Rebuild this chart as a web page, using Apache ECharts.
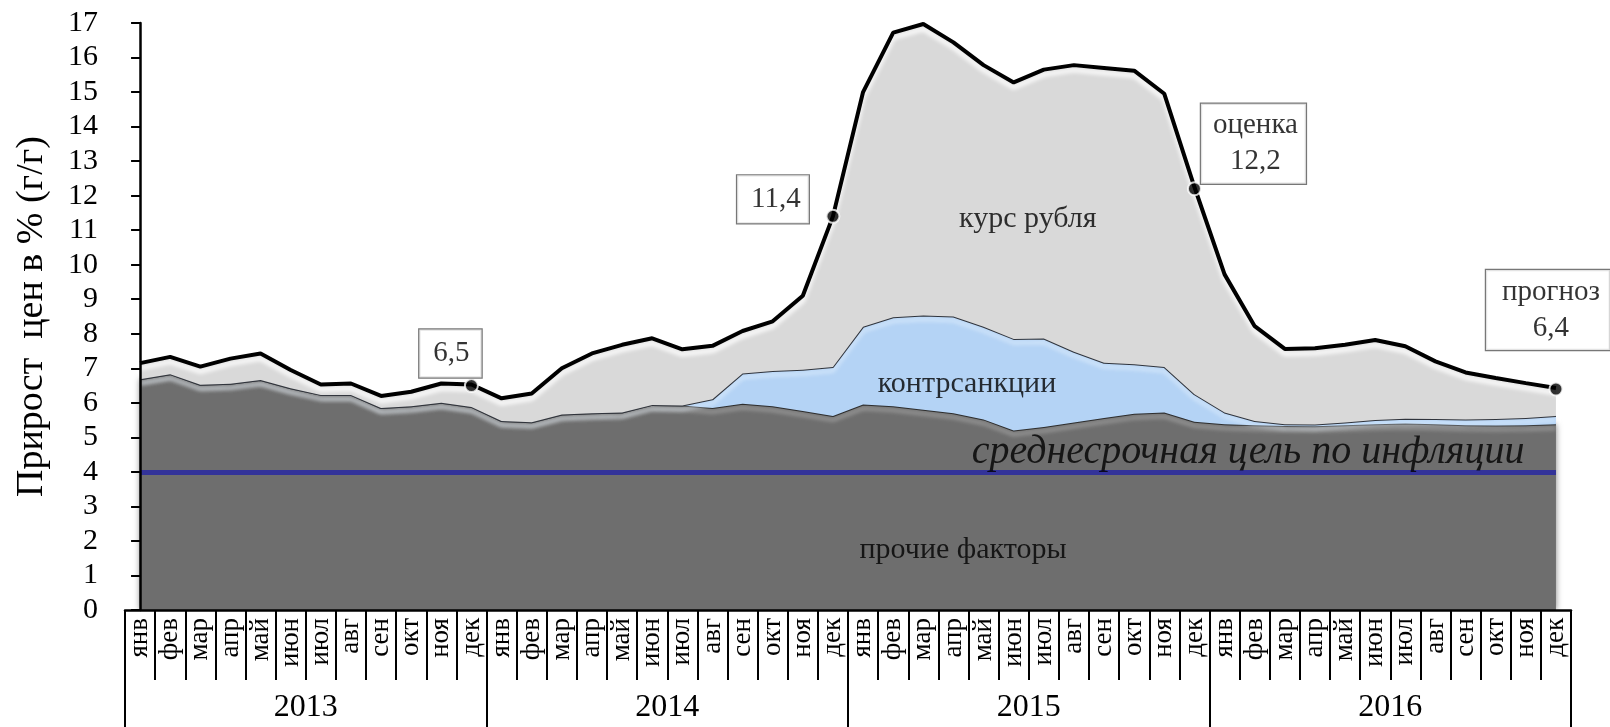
<!DOCTYPE html>
<html><head><meta charset="utf-8">
<script src="https://cdn.jsdelivr.net/npm/echarts@6/dist/echarts.min.js"></script>
<style>html,body{margin:0;padding:0;background:#fff}#c{width:1610px;height:727px}</style>
</head><body><div id="c"></div>
<script>
const months = ['янв','фев','мар','апр','май','июн','июл','авг','сен','окт','ноя','дек'];
const years = ['2013','2014','2015','2016'];
const yTicks = [0, 17, 1]; // min, max, interval

// прочие факторы
const otherValues = [6.68,6.83,6.52,6.55,6.66,6.42,6.23,6.23,5.85,5.90,6.00,5.88,
  5.47,5.44,5.66,5.70,5.72,5.94,5.92,5.85,5.97,5.90,5.76,5.62,
  5.95,5.90,5.80,5.70,5.52,5.20,5.30,5.43,5.56,5.68,5.72,5.45,
  5.38,5.35,5.33,5.32,5.35,5.38,5.40,5.38,5.35,5.34,5.35,5.38];
// контрсанкции
const sanctionValues = [0,0,0,0,0,0,0,0,0,0,0,0,
  0,0,0,0,0,0,0,0.25,0.88,1.02,1.20,1.42,
  2.25,2.58,2.73,2.80,2.68,2.65,2.56,2.05,1.60,1.44,1.32,0.80,
  0.34,0.12,0.05,0.05,0.08,0.12,0.14,0.15,0.17,0.19,0.21,0.24];
// курс рубля
const rubleValues = [0.47,0.50,0.53,0.73,0.77,0.53,0.30,0.33,0.35,0.42,0.56,0.65,
  0.66,0.83,1.34,1.73,1.96,1.93,1.63,1.55,1.23,1.44,2.14,4.36,
  6.80,8.24,8.44,7.94,7.58,7.43,7.79,8.30,8.54,8.50,7.91,6.00,
  4.00,2.75,2.18,2.21,2.25,2.32,2.10,1.67,1.36,1.19,1.01,0.81];
const TARGET = 4;
const keyIdx = [11, 23, 35, 47];
const keyVal = [6.5, 11.4, 12.2, 6.4];
const keyText = ['6,5', '11,4', 'оценка\n12,2', 'прогноз\n6,4'];
const areaLabels = ['курс рубля', 'контрсанкции', 'прочие факторы', 'среднесрочная цель по инфляции'];
const areaLabelPos = [[29.47, 11.32], [27.45, 6.54], [27.32, 1.74], [36.78, 4.55]];

const categories = [];
years.forEach(y => months.forEach(m => categories.push(m + '|' + y)));

const FONT = '"Liberation Serif", "DejaVu Serif", serif';
const chart = echarts.init(document.getElementById('c'), null, {renderer: 'canvas'});

const keyOffsets = [[-21, -32], [-60, -17], [59, -45], [-8, -79]];
const keyPad = [[6, 12, 6, 14], [6, 8, 6, 14], [4, 8, 4, 12], [4, 10, 4, 16]];
const areaFonts = [{fontSize: 30}, {fontSize: 30}, {fontSize: 30}, {fontSize: 40, fontStyle: 'italic'}];

const option = {
  animation: false,
  grid: {left: 125, right: 39, top: 23, bottom: 117, containLabel: false},
  xAxis: [
    {type: 'category', data: categories, boundaryGap: true, position: 'bottom', z: 10,
     axisLine: {show: true, onZero: false, lineStyle: {color: '#000', width: 2.5}},
     axisTick: {show: true, interval: 0, length: 70, lineStyle: {color: '#000', width: 2}},
     axisLabel: {rotate: 90, margin: 8, interval: 0, color: '#000', fontFamily: FONT, fontSize: 27,
       formatter: v => v.split('|')[0]},
     splitLine: {show: false}},
    {type: 'category', data: years, boundaryGap: true, position: 'bottom', offset: 0, z: 10,
     axisLine: {show: false, onZero: false},
     axisTick: {show: true, interval: 0, length: 118, lineStyle: {color: '#000', width: 2}},
     axisLabel: {margin: 82, color: '#000', fontFamily: FONT, fontSize: 32},
     splitLine: {show: false}},
    {type: 'value', min: -0.5, max: 47.5, show: false}
  ],
  yAxis: {
    type: 'value', min: yTicks[0], max: yTicks[1], interval: yTicks[2], z: 10,
    name: 'Прирост  цен в % (г/г)', nameLocation: 'middle', nameGap: 74,
    nameTextStyle: {fontFamily: FONT, fontSize: 38, color: '#000'},
    axisLine: {show: true, lineStyle: {color: '#000', width: 2.5}},
    axisTick: {show: true, length: 9, lineStyle: {color: '#000', width: 2}},
    axisLabel: {margin: 27, color: '#000', fontFamily: FONT, fontSize: 30},
    splitLine: {show: false}
  },
  series: [
    {name: 'прочие факторы', type: 'line', stack: 'total', data: otherValues,
     symbol: 'none', z: 2,
     lineStyle: {color: '#2e2e2e', width: 2, shadowColor: 'rgba(190,190,190,0.9)', shadowBlur: 4, shadowOffsetY: 4},
     areaStyle: {color: '#6e6e6e', opacity: 1, shadowColor: 'rgba(0,0,0,0.5)', shadowBlur: 6},
     markLine: {silent: true, symbol: 'none', label: {show: false}, z: 5,
       lineStyle: {color: '#333399', width: 5, type: 'solid'},
       data: [[{coord: [categories[0], TARGET]}, {coord: [categories[categories.length - 1], TARGET]}]]}},
    {name: 'контрсанкции', type: 'line', stack: 'total', data: sanctionValues,
     symbol: 'none', z: 3,
     lineStyle: {color: '#30343c', width: 2, shadowColor: 'rgba(235,245,255,0.95)', shadowBlur: 4, shadowOffsetY: 4},
     areaStyle: {color: '#b4d3f5', opacity: 1}},
    {name: 'курс рубля', type: 'line', stack: 'total', data: rubleValues,
     symbol: 'none', z: 4,
     lineStyle: {color: '#000', width: 4, shadowColor: 'rgba(255,255,255,1)', shadowBlur: 4, shadowOffsetY: 5},
     areaStyle: {color: '#d9d9d9', opacity: 1}},
    {name: 'keys', type: 'scatter', xAxisIndex: 0, z: 10,
     symbol: 'circle', symbolSize: 13,
     itemStyle: {color: '#000', borderColor: '#fff', borderWidth: 2},
     data: keyIdx.map((ix, k) => ({
       value: [categories[ix], keyVal[k]],
       label: {show: true, position: 'inside', offset: keyOffsets[k], formatter: keyText[k],
         color: '#000', fontFamily: FONT, fontSize: 29, lineHeight: 36, align: 'center',
         backgroundColor: '#fff', borderColor: '#555', borderWidth: 1.2, padding: keyPad[k]}
     }))},
    {name: 'texts', type: 'scatter', xAxisIndex: 2, z: 12, symbolSize: 0, silent: true,
     data: areaLabels.map((t, k) => ({
       value: areaLabelPos[k],
       label: Object.assign({show: true, position: 'inside', formatter: t, color: '#000',
         fontFamily: FONT, align: 'center', verticalAlign: 'middle'}, areaFonts[k])
     }))}
  ]
};
chart.setOption(option);
</script></body></html>
